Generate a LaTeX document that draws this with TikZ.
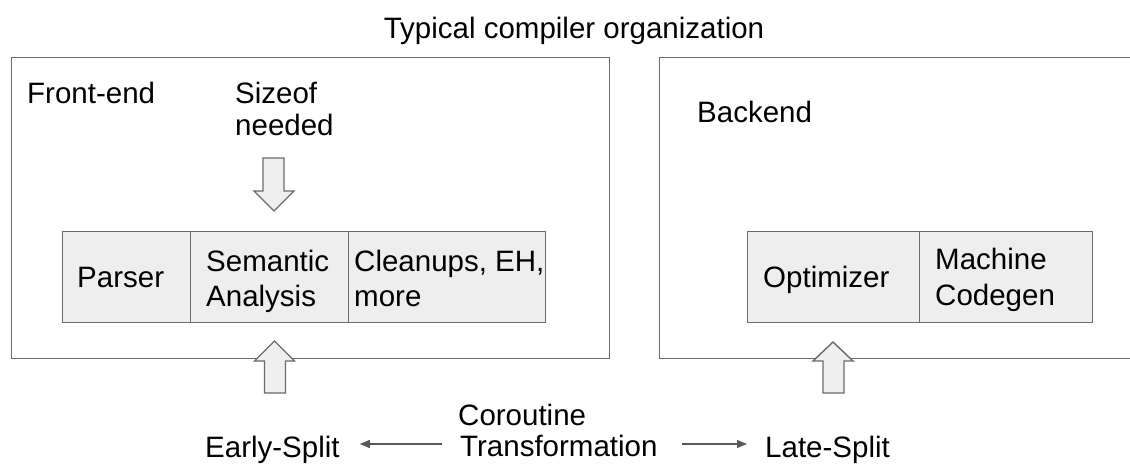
\documentclass[tikz,border=0pt]{standalone}
\usepackage{fontspec}
\setmainfont{Liberation Sans}
\usetikzlibrary{arrows.meta}
\definecolor{edge}{HTML}{6B6B6B}
\definecolor{cellfill}{HTML}{EEEEEE}
\definecolor{arrfill}{HTML}{EFEFEF}
\definecolor{thin}{HTML}{595959}
\tikzset{
  txt/.style={inner sep=0pt, anchor=base west, font=\fontsize{29.5}{35}\selectfont},
  outerbox/.style={draw=edge, line width=1.4pt, fill=white, inner sep=0pt, anchor=north west},
  cell/.style={draw=edge, line width=1.4pt, fill=cellfill, inner sep=0pt, anchor=north west},
  blockarrow/.style={draw=edge, line width=1.4pt, fill=arrfill, line join=miter},
  thinarrow/.style={draw=thin, line width=1.1pt, -{Triangle[length=10pt,width=8pt]}}
}
\begin{document}
\begin{tikzpicture}[x=1pt,y=-1pt]
\useasboundingbox (0,0) rectangle (1130,464);
% title
\node[txt, anchor=base] (title) at (574,38) {Typical compiler organization};
% outer boxes
\node[outerbox, minimum width=598pt, minimum height=301pt] (front) at (11,57) {};
\node[outerbox, minimum width=490pt, minimum height=301pt] (back) at (659,57) {};
\node[txt] (frontlbl) at (27,103) {Front-end};
\node[txt] (backlbl) at (697,122) {Backend};
\node[txt] (sizeof) at (235,103) {Sizeof};
\node[txt] (needed) at (235,135) {needed};
% front-end cells
\node[cell, minimum width=128pt, minimum height=91pt] (parser) at (62,230.5) {};
\node[cell, minimum width=158pt, minimum height=91pt] (sema) at (190,230.5) {};
\node[cell, minimum width=197pt, minimum height=91pt] (clean) at (348,230.5) {};
\node[txt] (parsertxt) at (77,287) {Parser};
\node[txt] (sematxt1) at (206,271) {Semantic};
\node[txt] (sematxt2) at (206,306) {Analysis};
\node[txt] (cleantxt1) at (354,271) {Cleanups, EH,};
\node[txt] (cleantxt2) at (354,306) {more};
% backend cells
\node[cell, minimum width=172pt, minimum height=91pt] (opt) at (747,230.5) {};
\node[cell, minimum width=173pt, minimum height=91pt] (mcg) at (919,230.5) {};
\node[txt] (opttxt) at (763,287) {Optimizer};
\node[txt] (mcgtxt1) at (935,269) {Machine};
\node[txt] (mcgtxt2) at (935,305) {Codegen};
% block arrows
\draw[blockarrow] (263,158) -- (284,158) -- (284,191) -- (294,191) -- (274,211) -- (254,191) -- (263,191) -- cycle;
\draw[blockarrow] (264.5,393) -- (285.5,393) -- (285.5,361) -- (294.5,361) -- (274.5,341) -- (254.5,361) -- (264.5,361) -- cycle;
\draw[blockarrow] (823,393) -- (844,393) -- (844,361) -- (853,361) -- (833,342) -- (813,361) -- (823,361) -- cycle;
% bottom labels
\node[txt] (coro1) at (458,425) {Coroutine};
\node[txt] (coro2) at (460,456) {Transformation};
\node[txt] (early) at (205,457) {Early-Split};
\node[txt] (late) at (765,457) {Late-Split};
\coordinate (lstart) at (442,444);
\coordinate (rstart) at (682,444);
\draw[thinarrow, shorten >=20pt] (lstart) -- (early.east |- lstart);
\draw[thinarrow, shorten >=18pt] (rstart) -- (late.west |- rstart);
\end{tikzpicture}
\end{document}
